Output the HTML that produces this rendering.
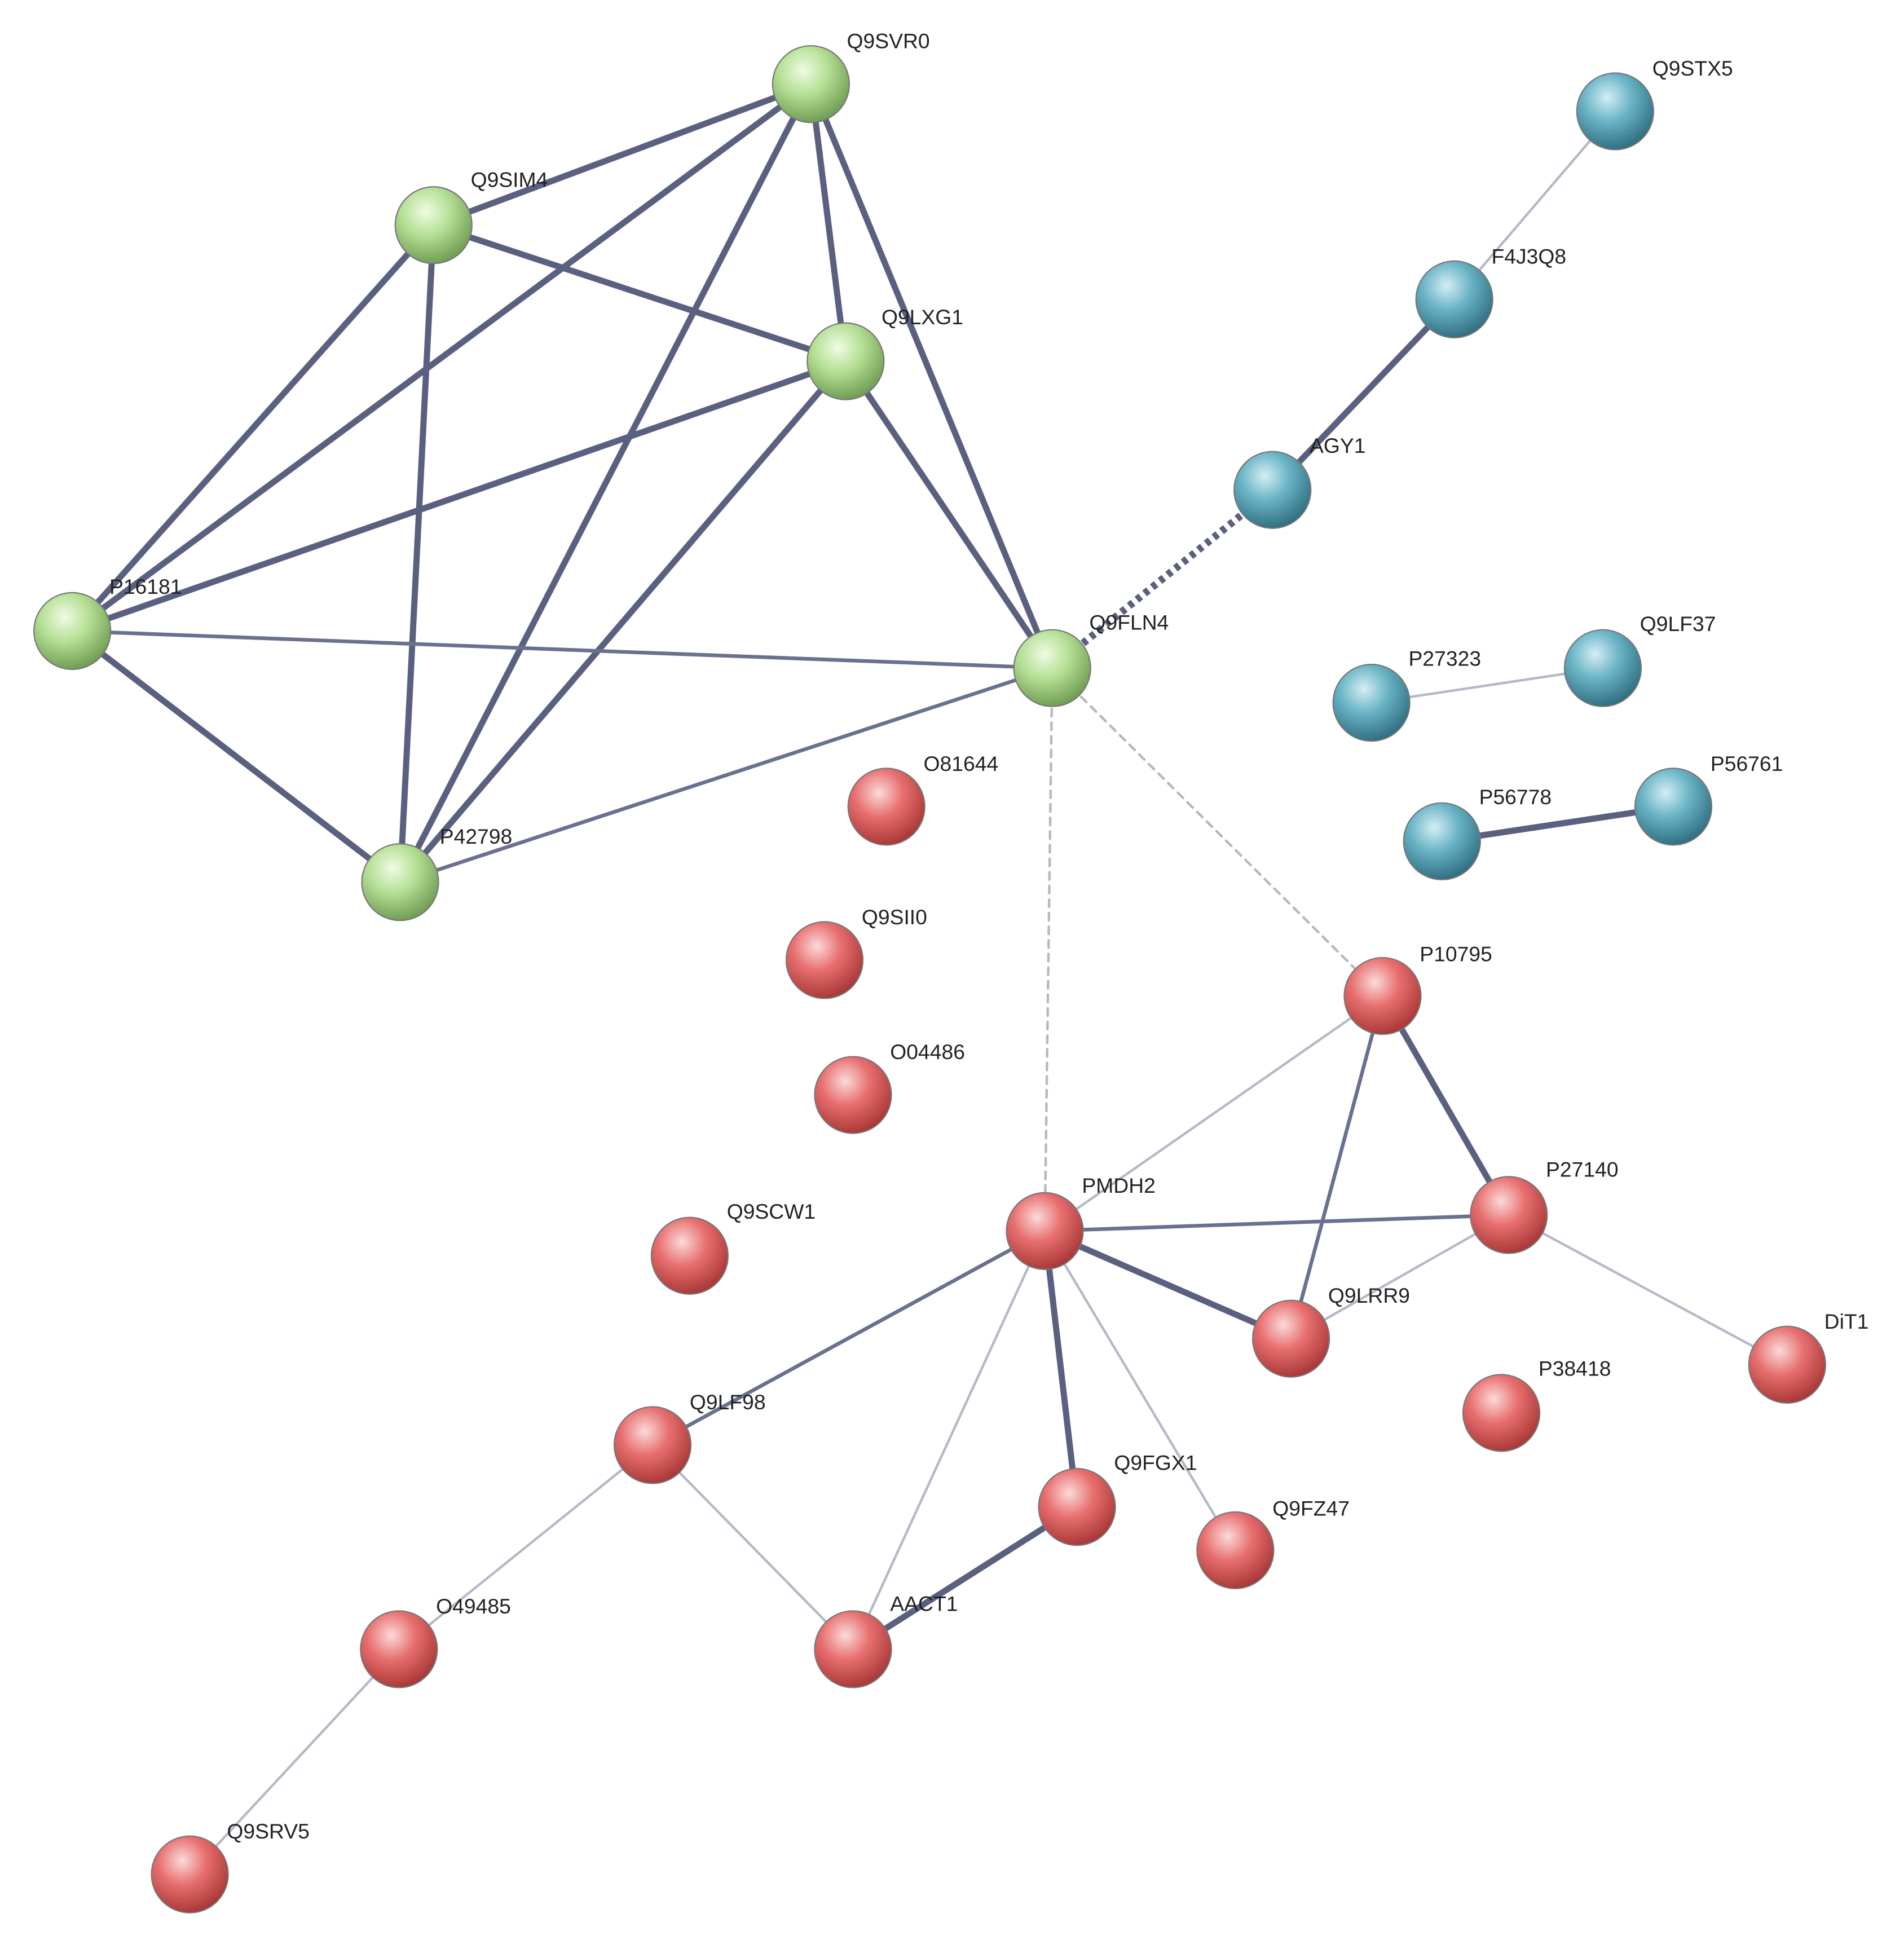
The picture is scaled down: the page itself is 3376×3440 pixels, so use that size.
<!DOCTYPE html>
<html><head><meta charset="utf-8"><style>html,body{margin:0;padding:0;background:#fff}svg{display:block}</style></head>
<body>
<svg width="3376" height="3440" viewBox="0 0 1538 1568" xmlns="http://www.w3.org/2000/svg">
<defs>
<radialGradient id="g" cx="40%" cy="32%" r="70%"><stop offset="0" stop-color="#f0fbe4"/><stop offset="0.45" stop-color="#b6e096"/><stop offset="1" stop-color="#6e9c52"/></radialGradient>
<radialGradient id="b" cx="40%" cy="32%" r="70%"><stop offset="0" stop-color="#d4eef4"/><stop offset="0.45" stop-color="#6ab4c6"/><stop offset="1" stop-color="#2f6d80"/></radialGradient>
<radialGradient id="r" cx="40%" cy="32%" r="70%"><stop offset="0" stop-color="#fbdada"/><stop offset="0.45" stop-color="#e86f6f"/><stop offset="1" stop-color="#a83636"/></radialGradient>
</defs>
<g stroke-linecap="round" fill="none">
<g stroke="#5a6080" stroke-width="5">
<line x1="655" y1="68" x2="350" y2="182"/><line x1="655" y1="68" x2="58" y2="510"/><line x1="655" y1="68" x2="683" y2="292"/><line x1="655" y1="68" x2="850" y2="540"/><line x1="655" y1="68" x2="323" y2="713"/><line x1="350" y1="182" x2="683" y2="292"/><line x1="350" y1="182" x2="58" y2="510"/><line x1="350" y1="182" x2="323" y2="713"/><line x1="683" y1="292" x2="58" y2="510"/><line x1="683" y1="292" x2="850" y2="540"/><line x1="683" y1="292" x2="323" y2="713"/><line x1="58" y1="510" x2="323" y2="713"/>
<line x1="1028" y1="396" x2="1175" y2="242"/><line x1="1165" y1="680" x2="1352" y2="652"/>
<line x1="1117" y1="805" x2="1219" y2="982"/><line x1="844" y1="995" x2="1043" y2="1082"/><line x1="844" y1="995" x2="870" y2="1218"/><line x1="870" y1="1218" x2="689" y2="1333"/>
</g>
<g stroke="#6a7090" stroke-width="3">
<line x1="58" y1="510" x2="850" y2="540"/><line x1="323" y1="713" x2="850" y2="540"/>
<line x1="844" y1="995" x2="1219" y2="982"/><line x1="844" y1="995" x2="527" y2="1168"/><line x1="1117" y1="805" x2="1043" y2="1082"/>
</g>
<line x1="850" y1="540" x2="1028" y2="396" stroke="#5a6080" stroke-width="6" stroke-dasharray="4 4" stroke-linecap="butt"/>
<g stroke="#b4b8c8" stroke-width="2">
<line x1="1175" y1="242" x2="1305" y2="90"/><line x1="1108" y1="568" x2="1295" y2="540"/>
<line x1="1117" y1="805" x2="844" y2="995"/><line x1="1043" y1="1082" x2="1219" y2="982"/><line x1="1219" y1="982" x2="1444" y2="1103"/>
<line x1="844" y1="995" x2="689" y2="1333"/><line x1="844" y1="995" x2="998" y2="1253"/><line x1="527" y1="1168" x2="689" y2="1333"/><line x1="527" y1="1168" x2="322" y2="1333"/><line x1="322" y1="1333" x2="153" y2="1515"/>
</g>
<g stroke="#b8b8b8" stroke-width="2" stroke-dasharray="6 5">
<line x1="850" y1="540" x2="844" y2="995"/><line x1="850" y1="540" x2="1117" y2="805"/>
</g>
</g>
<g stroke="#777" stroke-width="1">
<circle cx="655" cy="68" r="31" fill="url(#g)"/><circle cx="350" cy="182" r="31" fill="url(#g)"/><circle cx="683" cy="292" r="31" fill="url(#g)"/><circle cx="58" cy="510" r="31" fill="url(#g)"/><circle cx="850" cy="540" r="31" fill="url(#g)"/><circle cx="323" cy="713" r="31" fill="url(#g)"/>
<circle cx="1305" cy="90" r="31" fill="url(#b)"/><circle cx="1175" cy="242" r="31" fill="url(#b)"/><circle cx="1028" cy="396" r="31" fill="url(#b)"/><circle cx="1108" cy="568" r="31" fill="url(#b)"/><circle cx="1295" cy="540" r="31" fill="url(#b)"/><circle cx="1165" cy="680" r="31" fill="url(#b)"/><circle cx="1352" cy="652" r="31" fill="url(#b)"/>
<circle cx="716" cy="652" r="31" fill="url(#r)"/><circle cx="666" cy="776" r="31" fill="url(#r)"/><circle cx="689" cy="885" r="31" fill="url(#r)"/><circle cx="1117" cy="805" r="31" fill="url(#r)"/><circle cx="1219" cy="982" r="31" fill="url(#r)"/><circle cx="844" cy="995" r="31" fill="url(#r)"/><circle cx="557" cy="1015" r="31" fill="url(#r)"/><circle cx="1043" cy="1082" r="31" fill="url(#r)"/><circle cx="1444" cy="1103" r="31" fill="url(#r)"/><circle cx="1213" cy="1142" r="31" fill="url(#r)"/><circle cx="527" cy="1168" r="31" fill="url(#r)"/><circle cx="870" cy="1218" r="31" fill="url(#r)"/><circle cx="998" cy="1253" r="31" fill="url(#r)"/><circle cx="322" cy="1333" r="31" fill="url(#r)"/><circle cx="689" cy="1333" r="31" fill="url(#r)"/><circle cx="153" cy="1515" r="31" fill="url(#r)"/>
</g>
<g font-family="Liberation Sans, sans-serif" font-size="17" fill="#222">
<text x="684" y="39">Q9SVR0</text><text x="380" y="151">Q9SIM4</text><text x="712" y="262">Q9LXG1</text><text x="88" y="480">P16181</text><text x="880" y="509">Q9FLN4</text><text x="355" y="682">P42798</text>
<text x="1335" y="61">Q9STX5</text><text x="1205" y="213">F4J3Q8</text><text x="1058" y="366">AGY1</text><text x="1138" y="538">P27323</text><text x="1325" y="510">Q9LF37</text><text x="1195" y="650">P56778</text><text x="1382" y="623">P56761</text>
<text x="746" y="623">O81644</text><text x="696" y="747">Q9SII0</text><text x="719" y="856">O04486</text><text x="1147" y="777">P10795</text><text x="1249" y="951">P27140</text><text x="874" y="964">PMDH2</text><text x="587" y="985">Q9SCW1</text><text x="1073" y="1053">Q9LRR9</text><text x="1474" y="1074">DiT1</text><text x="1243" y="1112">P38418</text><text x="557" y="1139">Q9LF98</text><text x="900" y="1188">Q9FGX1</text><text x="1028" y="1225">Q9FZ47</text><text x="352" y="1304">O49485</text><text x="719" y="1302">AACT1</text><text x="183" y="1486">Q9SRV5</text>
</g>
</svg>
</body></html>
